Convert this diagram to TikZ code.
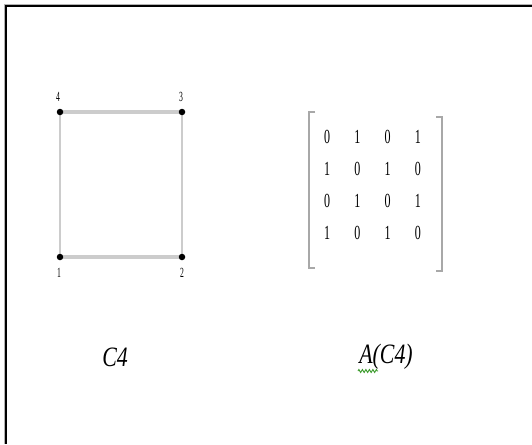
\documentclass[tikz,border=0pt]{standalone}
\usepackage{fontspec}
\setmainfont{Liberation Serif}
\usetikzlibrary{decorations.pathmorphing}
\definecolor{edgegray}{HTML}{CCCCCC}
\definecolor{brackgray}{HTML}{A8A8A8}
\definecolor{squiggle}{HTML}{3A9A2A}
\begin{document}
\begin{tikzpicture}[x=1pt,y=-1pt,
  vertex/.style={circle,fill=black,inner sep=0pt,minimum size=6.5pt},
  vlabel/.style={font=\fontsize{14}{14}\selectfont,inner sep=0pt,xscale=0.55},
  hedge/.style={draw=edgegray,line width=3.6pt},
  vedge/.style={draw=edgegray,line width=2pt},
  entry/.style={font=\fontsize{20}{20}\selectfont,inner sep=0pt,xscale=0.6},
  caption/.style={font=\itshape\fontsize{28}{28}\selectfont,inner sep=0pt,xscale=0.78},
  bracket/.style={draw=brackgray,line width=1.2pt}]
  % page area and frame
  \useasboundingbox (0,0) rectangle (532,444);
  \fill[white] (0,0) rectangle (532,444);
  \draw[line width=2pt,black] (6,444) -- (6,6) -- (532,6);
  \draw[line width=0.6pt,gray!60] (4,444) -- (4,4) -- (532,4);

  % cycle graph C4
  \coordinate (p1) at (60,257);
  \coordinate (p2) at (182,257);
  \coordinate (p3) at (182,112);
  \coordinate (p4) at (60,112);
  \draw[hedge] (p4) -- (p3);
  \draw[hedge] (p1) -- (p2);
  \draw[vedge] (p4) -- (p1);
  \draw[vedge] (p3) -- (p2);
  \node[vertex] (v1) at (p1) {};
  \node[vertex] (v2) at (p2) {};
  \node[vertex] (v3) at (p3) {};
  \node[vertex] (v4) at (p4) {};
  \node[vlabel] (l4) at (58,97) {4};
  \node[vlabel] (l3) at (181,97) {3};
  \node[vlabel] (l1) at (59,273) {1};
  \node[vlabel] (l2) at (182,273) {2};

  % adjacency matrix
  \foreach \r/\row in {1/{0,1,0,1},2/{1,0,1,0},3/{0,1,0,1},4/{1,0,1,0}} {
    \foreach \v [count=\c] in \row {
      \pgfmathsetmacro{\xx}{327+30.3*(\c-1)}
      \pgfmathsetmacro{\yy}{137+32*(\r-1)}
      \node[entry] (m\r\c) at (\xx,\yy) {\v};
    }
  }
  \draw[bracket] (315,112) -- (309,112) -- (309,268) -- (315,268);
  \draw[bracket] (436,117) -- (442,117) -- (442,271) -- (436,271);

  % captions
  \node[caption] (cap1) at (115,357) {C4};
  \node[caption] (cap2) at (386,357) {A(C4)};
  \draw[squiggle,line width=0.9pt,decorate,
        decoration={zigzag,segment length=3.5pt,amplitude=1.5pt}]
        (358,371) -- (378,371);
\end{tikzpicture}
\end{document}
